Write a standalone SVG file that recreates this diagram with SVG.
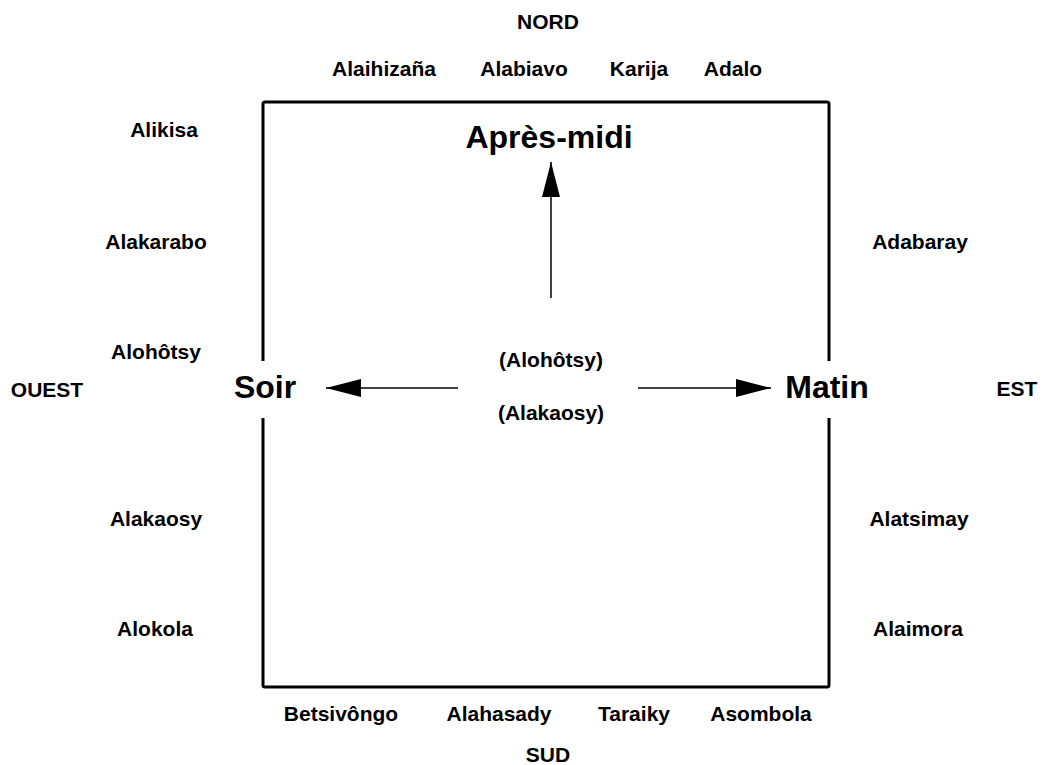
<svg xmlns="http://www.w3.org/2000/svg" width="1042" height="765" viewBox="0 0 1042 765">
<style>
text{font-family:"Liberation Sans",Arial,sans-serif;font-weight:bold;fill:#000;text-anchor:middle}
.n{font-size:21px}
.b{font-size:32px}
.frame{fill:none;stroke:#000;stroke-width:3}
.conn{stroke:#000;stroke-width:1.5;fill:none}
</style>
<defs>
<marker id="ah" markerUnits="userSpaceOnUse" markerWidth="36" markerHeight="18" refX="35" refY="9" orient="auto" viewBox="0 0 36 18">
<path d="M0,0 L35,9 L0,18 z" fill="#000"/>
</marker>
</defs>
<rect width="1042" height="765" fill="#fff"/>
<g id="frame">
<path class="frame" d="M263,361 V104 Q263,102 265,102 H827 Q829,102 829,104 V361"/>
<path class="frame" d="M263,418 V685 Q263,687 265,687 H827 Q829,687 829,685 V418"/>
</g>
<g id="connectors">
<line class="conn" x1="551" y1="298" x2="551" y2="162" marker-end="url(#ah)"/>
<line class="conn" x1="458" y1="388" x2="326" y2="388" marker-end="url(#ah)"/>
<line class="conn" x1="638" y1="388" x2="771" y2="388" marker-end="url(#ah)"/>
</g>
<g id="node-apres-midi"><text class="b" x="549" y="148">Après-midi</text></g>
<g id="node-soir"><text class="b" x="265" y="398">Soir</text></g>
<g id="node-matin"><text class="b" x="827" y="398">Matin</text></g>
<g id="node-center">
<text class="n" x="551" y="367">(Alohôtsy)</text>
<text class="n" x="551" y="420">(Alakaosy)</text>
</g>
<g id="node-nord">
<text class="n" x="548" y="29">NORD</text>
<text class="n" x="384" y="76">Alaihizaña</text>
<text class="n" x="524" y="76">Alabiavo</text>
<text class="n" x="639" y="76">Karija</text>
<text class="n" x="733" y="76">Adalo</text>
</g>
<g id="node-ouest">
<text class="n" x="47" y="397">OUEST</text>
<text class="n" x="164" y="137">Alikisa</text>
<text class="n" x="156" y="249">Alakarabo</text>
<text class="n" x="156" y="359">Alohôtsy</text>
<text class="n" x="156" y="526">Alakaosy</text>
<text class="n" x="155" y="636">Alokola</text>
</g>
<g id="node-est">
<text class="n" x="1017" y="396">EST</text>
<text class="n" x="920" y="249">Adabaray</text>
<text class="n" x="919" y="526">Alatsimay</text>
<text class="n" x="918" y="636">Alaimora</text>
</g>
<g id="node-sud">
<text class="n" x="341" y="721">Betsivôngo</text>
<text class="n" x="499" y="721">Alahasady</text>
<text class="n" x="634" y="721">Taraiky</text>
<text class="n" x="761" y="721">Asombola</text>
<text class="n" x="548" y="762">SUD</text>
</g>
</svg>
